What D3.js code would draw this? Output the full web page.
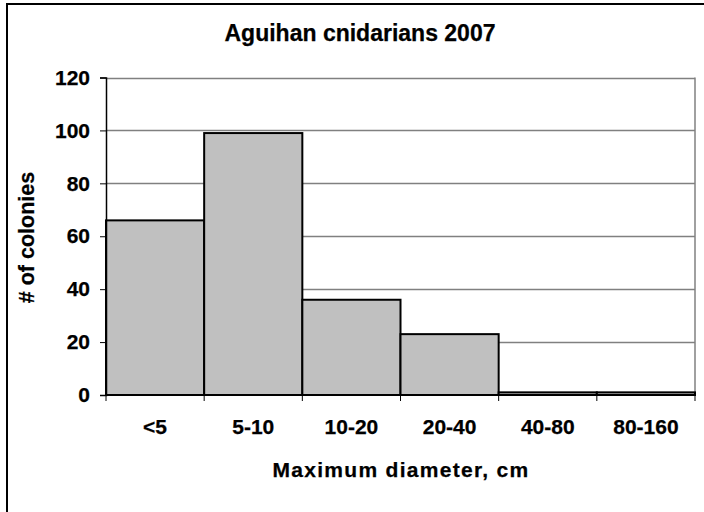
<!DOCTYPE html>
<html>
<head>
<meta charset="utf-8">
<script src="https://cdn.jsdelivr.net/npm/d3@7"></script>
<style>
  html, body { margin: 0; padding: 0; background: #fff; }
  svg { display: block; }
  text { font-family: "Liberation Sans", Arial, sans-serif; font-weight: bold; fill: #000; stroke: #000; stroke-width: 0.25; }
</style>
</head>
<body>
<svg id="chart" width="704" height="512"></svg>
<script>
// Size classes of maximum colony diameter (cm) and colony counts
const sizeClasses = ["<5", "5-10", "10-20", "20-40", "40-80", "80-160"];
const colonyCounts = [66, 99, 36, 23, 1, 1];
const yTicks = [0, 20, 40, 60, 80, 100, 120];

const titleText = "Aguihan cnidarians 2007";
const xTitle = "Maximum diameter, cm";
const yTitle = "# of colonies";

const svg = d3.select("#chart");
const plot = { left: 106, right: 695, top: 77.5, bottom: 395 };

// Outer chart frame (runs past the right and bottom edges)
svg.append("rect")
  .attr("x", 7).attr("y", 4)
  .attr("width", 760).attr("height", 560)
  .attr("fill", "#fff").attr("stroke", "#000").attr("stroke-width", 2);

const x = d3.scaleBand().domain(sizeClasses).range([plot.left, plot.right]).paddingInner(0).paddingOuter(0);
const y = d3.scaleLinear().domain([0, 120]).range([plot.bottom, plot.top]);

// Gridlines
svg.append("g")
  .selectAll("line")
  .data(yTicks.filter(d => d > 0))
  .join("line")
  .attr("x1", plot.left).attr("x2", plot.right)
  .attr("y1", d => Math.round(y(d)) + 0.5).attr("y2", d => Math.round(y(d)) + 0.5)
  .attr("stroke", "#808080").attr("stroke-width", 1.5);

// Right border of the plot area
svg.append("line")
  .attr("x1", plot.right).attr("x2", plot.right)
  .attr("y1", y(120)).attr("y2", plot.bottom)
  .attr("stroke", "#808080").attr("stroke-width", 1.5);

// Bars
svg.append("g")
  .selectAll("rect")
  .data(sizeClasses.map((c, i) => ({ c, v: colonyCounts[i] })))
  .join("rect")
  .attr("x", d => x(d.c))
  .attr("y", d => y(d.v))
  .attr("width", x.bandwidth())
  .attr("height", d => y(0) - y(d.v))
  .attr("fill", "#c0c0c0")
  .attr("stroke", "#000")
  .attr("stroke-width", 2);

// Y axis
const yAxis = svg.append("g")
  .attr("transform", `translate(${plot.left},0)`)
  .call(d3.axisLeft(y).tickValues(yTicks).tickSize(6).tickPadding(10));
yAxis.select(".domain").attr("stroke", "#000").attr("stroke-width", 1.5);
yAxis.selectAll(".tick line").attr("stroke", "#000").attr("stroke-width", 1);
yAxis.selectAll(".tick text")
  .attr("font-size", 21)
  .attr("font-family", "Liberation Sans, Arial, sans-serif")
  .attr("font-weight", "bold")
  .attr("fill", "#000");

// X axis: ticks at the class boundaries
const xAxisG = svg.append("g");
xAxisG.append("line")
  .attr("x1", plot.left).attr("x2", plot.right)
  .attr("y1", plot.bottom).attr("y2", plot.bottom)
  .attr("stroke", "#000").attr("stroke-width", 2);
const boundaries = sizeClasses.map(c => x(c)).concat([x(sizeClasses[sizeClasses.length - 1]) + x.bandwidth()]);
xAxisG.selectAll("line.tk")
  .data(boundaries)
  .join("line")
  .attr("class", "tk")
  .attr("x1", d => d).attr("x2", d => d)
  .attr("y1", plot.bottom).attr("y2", plot.bottom + 6)
  .attr("stroke", "#000").attr("stroke-width", 1);
xAxisG.selectAll("text")
  .data(sizeClasses)
  .join("text")
  .attr("x", d => x(d) + x.bandwidth() / 2)
  .attr("y", 434)
  .attr("text-anchor", "middle")
  .attr("font-size", 21)
  .text(d => d);

// Titles
svg.append("text")
  .attr("x", 360).attr("y", 41)
  .attr("text-anchor", "middle")
  .attr("font-size", 23)
  .text(titleText);

svg.append("text")
  .attr("x", 401).attr("y", 477)
  .attr("text-anchor", "middle")
  .attr("font-size", 21)
  .attr("letter-spacing", 1.3)
  .text(xTitle);

svg.append("text")
  .attr("transform", "translate(34,237.5) rotate(-90)")
  .attr("text-anchor", "middle")
  .attr("font-size", 21.5)
  .text(yTitle);
</script>
</body>
</html>
